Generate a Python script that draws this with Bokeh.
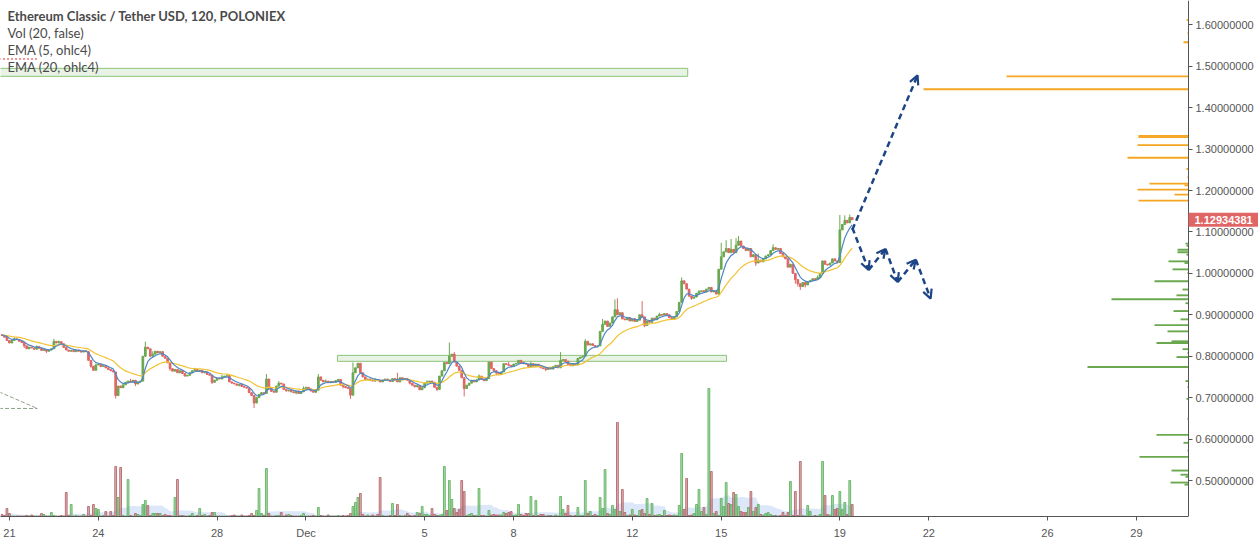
import pandas as pd
from bokeh.plotting import figure
from bokeh.models import (Range1d, FixedTicker, NumeralTickFormatter, ColumnDataSource,
                          Label, Arrow, OpenHead)
from bokeh.embed import file_html
from bokeh.resources import INLINE

# ---------------- data ----------------
TITLE = "Ethereum Classic / Tether USD, 120, POLONIEX"
LEGEND = ["Vol (20, false)", "EMA (5, ohlc4)", "EMA (20, ohlc4)"]

START_DAY = -0.25          # first 2h candle: Nov 20 18:00 (days from Nov 21 00:00, 2016)
BAR_DAYS = 2.0 / 24.0      # 120-minute candles
FIRST_OPEN = 0.852

CLOSES = [
    0.850, 0.846, 0.838, 0.832, 0.838, 0.842, 0.840, 0.836, 0.833, 0.825,
    0.818, 0.822, 0.820, 0.817, 0.823, 0.819, 0.814, 0.816, 0.812, 0.815,
    0.818, 0.836, 0.832, 0.835, 0.830, 0.821, 0.815, 0.812, 0.814, 0.811,
    0.815, 0.812, 0.810, 0.813, 0.811, 0.790, 0.776, 0.766, 0.779, 0.781,
    0.775, 0.777, 0.772, 0.768, 0.765, 0.762, 0.705, 0.728, 0.724, 0.731,
    0.737, 0.740, 0.738, 0.742, 0.733, 0.738, 0.740, 0.800, 0.822, 0.818,
    0.800, 0.805, 0.812, 0.808, 0.811, 0.800, 0.795, 0.784, 0.770, 0.764,
    0.768, 0.760, 0.765, 0.758, 0.752, 0.754, 0.760, 0.765, 0.768, 0.764,
    0.766, 0.760, 0.762, 0.756, 0.754, 0.737, 0.742, 0.747, 0.745, 0.750,
    0.752, 0.753, 0.738, 0.735, 0.733, 0.730, 0.732, 0.727, 0.725, 0.723,
    0.712, 0.705, 0.687, 0.700, 0.708, 0.712, 0.710, 0.745, 0.722, 0.715,
    0.713, 0.728, 0.735, 0.733, 0.720, 0.716, 0.718, 0.714, 0.712, 0.716,
    0.710, 0.714, 0.722, 0.725, 0.721, 0.716, 0.713, 0.718, 0.750, 0.742,
    0.738, 0.740, 0.736, 0.739, 0.737, 0.741, 0.744, 0.730, 0.727, 0.724,
    0.722, 0.706, 0.760, 0.772, 0.783, 0.760, 0.750, 0.744, 0.745, 0.742,
    0.740, 0.743, 0.741, 0.738, 0.742, 0.745, 0.742, 0.739, 0.746, 0.744,
    0.738, 0.748, 0.744, 0.746, 0.742, 0.735, 0.730, 0.726, 0.729, 0.719,
    0.724, 0.735, 0.738, 0.740, 0.737, 0.725, 0.720, 0.752, 0.765, 0.785,
    0.782, 0.800, 0.805, 0.786, 0.776, 0.766, 0.748, 0.722, 0.730, 0.735,
    0.742, 0.738, 0.743, 0.752, 0.745, 0.741, 0.746, 0.786, 0.770, 0.765,
    0.760, 0.757, 0.762, 0.782, 0.780, 0.778, 0.775, 0.781, 0.783, 0.790,
    0.785, 0.782, 0.781, 0.775, 0.782, 0.776, 0.781, 0.777, 0.772, 0.770,
    0.768, 0.772, 0.769, 0.775, 0.778, 0.772, 0.790, 0.792, 0.788, 0.780,
    0.777, 0.782, 0.779, 0.795, 0.798, 0.800, 0.836, 0.827, 0.830, 0.826,
    0.823, 0.825, 0.860, 0.877, 0.885, 0.872, 0.880, 0.895, 0.912, 0.900,
    0.905, 0.890, 0.888, 0.893, 0.885, 0.890, 0.884, 0.887, 0.900, 0.895,
    0.874, 0.885, 0.882, 0.892, 0.888, 0.897, 0.901, 0.899, 0.903, 0.900,
    0.893, 0.890, 0.895, 0.908, 0.930, 0.982, 0.975, 0.962, 0.945, 0.940,
    0.943, 0.952, 0.956, 0.958, 0.955, 0.962, 0.966, 0.955, 0.958, 0.950,
    1.010, 1.040, 1.052, 1.060, 1.050, 1.058, 1.050, 1.068, 1.078, 1.066,
    1.060, 1.055, 1.060, 1.040, 1.045, 1.025, 1.032, 1.028, 1.035, 1.042,
    1.045, 1.055, 1.062, 1.058, 1.060, 1.048, 1.040, 1.035, 1.015, 1.022,
    1.000, 0.985, 0.975, 0.968, 0.978, 0.972, 0.980, 0.983, 0.987, 0.985,
    0.990, 1.000, 1.030, 1.022, 1.020, 1.025, 1.035, 1.030, 1.026, 1.105,
    1.118, 1.128, 1.122, 1.135, 1.12934381,
]

HIGH_WICKS = {5: 0.846, 14: 0.826, 21: 0.842, 23: 0.838, 38: 0.782, 52: 0.745, 58: 0.835,
              61: 0.812, 78: 0.772, 89: 0.756, 107: 0.757, 112: 0.740, 122: 0.727, 128: 0.757,
              131: 0.744, 142: 0.785, 151: 0.747, 160: 0.760, 172: 0.742, 181: 0.833, 183: 0.810,
              193: 0.756, 205: 0.786, 214: 0.787, 226: 0.810, 232: 0.784, 236: 0.841, 243: 0.890,
              248: 0.937, 249: 0.940, 256: 0.892, 259: 0.933, 266: 0.905, 275: 0.990, 282: 0.960,
              291: 1.074, 293: 1.080, 295: 1.083, 297: 1.085, 298: 1.090, 306: 1.048, 312: 1.070,
              330: 0.995, 339: 1.141, 341: 1.140, 343: 1.142}
LOW_WICKS = {9: 0.820, 18: 0.808, 36: 0.772, 46: 0.698, 54: 0.728, 68: 0.765, 85: 0.733,
             96: 0.727, 102: 0.675, 119: 0.708, 138: 0.722, 141: 0.697, 165: 0.732, 176: 0.716,
             187: 0.703, 200: 0.754, 220: 0.764, 260: 0.870, 279: 0.936, 305: 1.018, 321: 0.975,
             322: 0.968, 323: 0.960, 325: 0.966}

VOLUME = [
    2, 1, 8, 3, 0.5, 0.5, 0.5, 0.5, 0.5, 0.5,
    1, 0.5, 1.5, 0.5, 0.5, 0.5, 3, 2, 0.5, 0.5,
    4, 1, 0.5, 0.5, 1, 0.5, 24, 1, 12, 0.5,
    1, 0.5, 0.5, 2, 0.5, 10, 1, 12, 8, 7,
    0.5, 1, 5, 0.5, 5, 1, 50, 19, 49, 1,
    0.5, 37, 1, 0.5, 3, 2, 1, 12, 16, 11,
    1, 3, 3, 3, 3, 1, 2, 1, 1, 0.5,
    19, 37, 1, 1, 0.5, 0.5, 1, 3, 0.5, 1,
    8, 1, 2, 0.5, 1, 4, 4, 0.5, 0.5, 0.5,
    0.5, 0.5, 0.5, 1, 1.5, 0.5, 0.5, 1.5, 0.5, 0.5,
    1, 3, 1, 6, 28, 3, 1, 48, 3, 0.5,
    0.5, 1, 1, 4, 0.5, 1.5, 2, 1, 0.5, 0.5,
    0.5, 1, 3, 0.5, 0.5, 0.5, 1, 0.5, 9, 1,
    0.5, 0.5, 1.5, 0.5, 0.5, 0.5, 1, 0.5, 1, 0.5,
    1, 3, 10, 14, 19, 23, 2, 0.5, 1.5, 0.5,
    1.5, 0.5, 2, 39, 1, 0.5, 0.5, 1, 13, 1,
    12, 1, 0.5, 1, 3, 1, 0.5, 1, 4, 3,
    10, 2, 2, 1, 8, 2, 1, 1, 2, 50,
    6, 36, 17, 8, 4, 7, 36, 25, 1, 2,
    3, 1, 1, 28, 1, 1, 0.5, 6, 1.5, 2,
    1.5, 1.5, 1.5, 4, 3, 4, 5, 1, 1.5, 12,
    2, 1, 3, 3, 20, 1, 16, 1, 2, 2,
    0.5, 1, 1, 0.5, 1.5, 0.5, 20, 7, 3, 11,
    1, 0.5, 1, 9, 1, 1, 36, 3, 5, 1,
    2, 1, 19, 8, 47, 3, 2, 11, 7, 94,
    5, 27, 4, 1, 1.5, 7, 1.5, 1, 6, 7,
    3, 18, 2, 13, 1, 1.5, 2, 1, 6, 1,
    1.5, 1, 1.5, 1, 11, 63, 7, 38, 1, 1.5,
    3, 12, 27, 5, 9, 2, 128, 45, 3, 5,
    1, 18, 10, 34, 13, 12, 24, 22, 10, 5,
    4, 4, 9, 25, 5, 9, 12, 2, 1.5, 3,
    4, 2, 1, 1, 0.5, 1, 4, 1, 4, 35,
    1, 25, 1, 55, 1, 0.5, 11, 5, 0.5, 1,
    0.5, 2, 55, 21, 2, 1.5, 21, 7, 8, 25,
    7, 14, 2, 36, 12,
]

# volume-by-price histogram on the right (price level, volume)
VP_PRICES = [1.612, 1.580, 1.558, 1.4756, 1.4444, 1.3320, 1.3290, 1.3097, 1.2791, 1.2519,
             1.2320, 1.2166, 1.2127, 1.2021, 1.1901, 1.1757,
             1.0718, 1.0667, 1.0571, 1.0510, 1.0450, 1.0290, 1.0250, 1.0097, 1.0010, 0.9810,
             0.9610, 0.9470, 0.9375, 0.9280, 0.9090, 0.8890, 0.8750, 0.8600, 0.8360, 0.8320,
             0.8170, 0.8080, 0.7980, 0.7740, 0.7400, 0.7260, 0.6970, 0.6490, 0.6100, 0.5910,
             0.5720, 0.5570, 0.5240, 0.5140, 0.5090, 0.4950, 0.4900]
VP_VOLUMES = [2, 1, 5, 182, 265, 50, 50, 51, 61, 2,
              1, 39, 4, 51, 14, 50,
              3, 2, 11, 11, 2, 20, 4, 16, 1, 34,
              6, 12, 77, 3, 15, 8, 34, 21, 17, 32,
              6, 1, 12, 101, 3, 1, 2, 1, 32, 5,
              1, 49, 17, 8, 3, 18, 4]

# chart drawings (day, price)
ZONE_LEFT = [-1.0, 11.06]
ZONE_RIGHT = [22.87, 24.18]
ZONE_TOP = [1.4949, 0.8021]
ZONE_BOTTOM = [1.4756, 0.7877]
FORECAST_UP_DAYS = [28.42, 30.62]
FORECAST_UP_PRICES = [1.105, 1.478]
FORECAST_DOWN_DAYS = [28.42, 28.97, 29.54, 29.95, 30.56, 31.06]
FORECAST_DOWN_PRICES = [1.110, 1.008, 1.059, 0.979, 1.033, 0.939]
GRAY_LINE_DAYS = [[-0.35, 0.944], [-0.35, 0.944]]
GRAY_LINE_PRICES = [[0.7140, 0.6739], [0.6739, 0.6739]]
RED_LINE_DAYS = [-0.35, 0.944]
RED_LINE_PRICES = [1.5175, 1.5175]

TICK_DAYS = [0, 3, 7, 10, 14, 17, 21, 24, 28, 31, 35, 38]
TICK_LABELS = ["21", "24", "28", "Dec", "5", "8", "12", "15", "19", "22", "26", "29"]
PRICE_TICKS = [0.5, 0.6, 0.7, 0.8, 0.9, 1.0, 1.1, 1.2, 1.3, 1.4, 1.5, 1.6]

# layout: the price scale sits at AXIS_DAY, the right 70 px hold its labels
X_START = -0.30
AXIS_DAY = 39.755
X_END = 42.115
Y_RANGE = (0.4131, 1.6587)

# ---------------- styling ----------------
UP = "#6aa84f"
DOWN = "#e06666"
VOL_UP = "#5fb35f"
VOL_DOWN = "#b5676a"
AXIS_COLOR = "#555555"
TEXT_COLOR = "#4a4a4a"
FONT = "Liberation Sans"
LEG_FONT = "Lato"

# ---------------- derived series ----------------
n = len(CLOSES)
opens = [FIRST_OPEN] + CLOSES[:-1]
times = [START_DAY + i * BAR_DAYS for i in range(n)]
highs = [max(o, c, HIGH_WICKS.get(i, 0.0)) for i, (o, c) in enumerate(zip(opens, CLOSES))]
lows = [min(o, c, LOW_WICKS.get(i, 99.0)) for i, (o, c) in enumerate(zip(opens, CLOSES))]
is_up = [c >= o for o, c in zip(opens, CLOSES)]
colors = [UP if u else DOWN for u in is_up]
vol_colors = [VOL_UP if u else VOL_DOWN for u in is_up]
ohlc4 = pd.Series([(o + h + l + c) / 4 for o, h, l, c in zip(opens, highs, lows, CLOSES)])
ema5 = ohlc4.ewm(span=5, adjust=False).mean()
ema20 = ohlc4.ewm(span=20, adjust=False).mean()
vol_ma = pd.Series(VOLUME).rolling(20, min_periods=1).mean()

src = ColumnDataSource(dict(
    t=times, o=opens, h=highs, l=lows, c=CLOSES,
    top=[max(o, c) for o, c in zip(opens, CLOSES)],
    bot=[min(o, c) for o, c in zip(opens, CLOSES)],
    color=colors, vcolor=vol_colors, vol=VOLUME, vma=vol_ma.tolist(),
    e5=ema5.tolist(), e20=ema20.tolist(),
))

p = figure(frame_width=1258, frame_height=516,
           x_range=Range1d(X_START, X_END), y_range=Range1d(*Y_RANGE),
           y_axis_location="right", toolbar_location=None, output_backend="svg",
           min_border_left=0, min_border_top=0, min_border_right=0, min_border_bottom=26)
p.outline_line_color = None
p.xgrid.visible = False
p.ygrid.visible = False
p.background_fill_color = "white"
p.border_fill_color = "white"

p.extra_y_ranges = {"vol": Range1d(0, max(VOLUME) * 4.03)}
p.extra_x_ranges = {"vp": Range1d(start=1188, end=-70)}

# volume MA area + volume bars
p.varea(x="t", y1=0, y2="vma", source=src, y_range_name="vol",
        fill_color="#c9daf8", fill_alpha=0.65)
p.vbar(x="t", width=BAR_DAYS * 0.72, top="vol", bottom=0, source=src, y_range_name="vol",
       fill_color="vcolor", fill_alpha=0.5, line_color="vcolor", line_alpha=0.9, line_width=1)

# zones
p.quad(left=ZONE_LEFT, right=ZONE_RIGHT, top=ZONE_TOP, bottom=ZONE_BOTTOM,
       fill_color="#b6d7a8", fill_alpha=0.3, line_color="#8cc47a", line_width=1)

# volume-by-price histogram
last = CLOSES[-1]
vp_colors = ["#f5a623" if pr > last else UP for pr in VP_PRICES]
p.hbar(y=VP_PRICES, left=0, right=VP_VOLUMES, height=0.0045, x_range_name="vp",
       fill_color=vp_colors, line_color=None)

# candles
p.segment(x0="t", y0="l", x1="t", y1="h", source=src, line_color="color", line_width=1)
p.vbar(x="t", width=BAR_DAYS * 0.68, top="top", bottom="bot", source=src,
       fill_color="color", line_color="color", line_width=1)

# EMAs
p.line("t", "e20", source=src, line_color="#f1c232", line_width=1.2)
p.line("t", "e5", source=src, line_color="#4f86c6", line_width=1.2)

# old drawings
p.multi_line(GRAY_LINE_DAYS, GRAY_LINE_PRICES, line_color="#8fa087", line_width=1,
             line_dash="4 2")
p.line(RED_LINE_DAYS, RED_LINE_PRICES, line_color="#e03030", line_width=1, line_dash="2 2")

# forecast arrows
FC = "#1c4587"
for days, prices in ((FORECAST_UP_DAYS, FORECAST_UP_PRICES),
                     (FORECAST_DOWN_DAYS, FORECAST_DOWN_PRICES)):
    asrc = ColumnDataSource(dict(x0=days[:-1], y0=prices[:-1], x1=days[1:], y1=prices[1:]))
    p.add_layout(Arrow(x_start="x0", y_start="y0", x_end="x1", y_end="y1", source=asrc,
                       line_color=FC, line_width=2.5, line_dash="6 4",
                       end=OpenHead(size=9, line_color=FC, line_width=2.2)))

# axes
xa = p.xaxis[0]
xa.ticker = FixedTicker(ticks=TICK_DAYS, minor_ticks=[])
xa.major_label_overrides = {d: lab for d, lab in zip(TICK_DAYS, TICK_LABELS)}
xa.bounds = (X_START, AXIS_DAY)
ya = p.yaxis[0]
ya.fixed_location = AXIS_DAY
ya.ticker = FixedTicker(ticks=PRICE_TICKS, minor_ticks=[])
ya.formatter = NumeralTickFormatter(format="0.00000000")
for ax in (xa, ya):
    ax.axis_line_color = AXIS_COLOR
    ax.major_tick_line_color = AXIS_COLOR
    ax.major_tick_in = 0
    ax.major_tick_out = 4
    ax.minor_tick_line_color = None
    ax.major_label_text_font = FONT
    ax.major_label_text_font_size = "11px"
    ax.major_label_text_color = "#555555"
xa.major_label_standoff = 6
ya.major_label_standoff = 3

# current price tag on the price scale (anchor = left edge of the tag box)
p.add_layout(Label(x=AXIS_DAY, y=last, text=f"{last:.8f}", x_offset=0,
                   text_align="left", text_baseline="middle", text_color="white",
                   text_font=FONT, text_font_size="11px", text_font_style="bold",
                   background_fill_color="#e06666", padding=(6, 3)))

# legend texts (top-left)
rows = [TITLE] + LEGEND
for k, txt in enumerate(rows):
    p.add_layout(Label(x=7, y=516 - (15 + 17 * k), x_units="screen", y_units="screen",
                       text=txt, text_baseline="middle", text_align="left",
                       text_font=LEG_FONT, text_font_size="13px",
                       text_font_style="bold" if k == 0 else "normal",
                       text_color=TEXT_COLOR))

open("out.html", "w").write(file_html(p, INLINE))
